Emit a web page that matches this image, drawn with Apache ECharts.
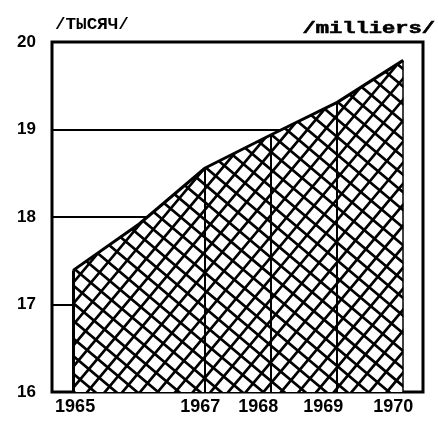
<!DOCTYPE html>
<html>
<head>
<meta charset="utf-8">
<script src="https://cdn.jsdelivr.net/npm/echarts@6/dist/echarts.min.js"></script>
<style>
  html, body { margin: 0; padding: 0; background: #fff; }
  #chart { width: 438px; height: 428px; }
</style>
</head>
<body>
<div id="chart"></div>
<script>
// values
const years = [1965, 1966, 1967, 1968, 1969, 1970];
const values = [17.39, 17.92, 18.56, 18.94, 19.31, 19.79];
const labelYears = [1965, 1967, 1968, 1969, 1970];
const yTicks = [16, 17, 18, 19, 20];
const unitLeft = '/ТЫСЯЧ/';
const unitRight = '/milliers/';

const xMin = 1964.68, xMax = 1970.3;

// labels in the picture sit a bit left of their year
const labelShift = { 1965: 2, 1967: -5, 1968: -13, 1969: -14, 1970: -10 };

// cross hatch drawn once on a canvas the size of the chart
const makeHatch = () => {
    const w = 438, h = 428;
    const cv = document.createElement('canvas');
    cv.width = w; cv.height = h;
    const ctx = cv.getContext('2d');
    ctx.fillStyle = '#fff';
    ctx.fillRect(0, 0, w, h);
    ctx.strokeStyle = '#000';
    ctx.lineWidth = 2.7;
    const family = (deg, gap) => {
        const a = deg * Math.PI / 180;
        const dx = Math.cos(a), dy = -Math.sin(a);
        const nx = -dy, ny = dx;
        const R = Math.hypot(w, h);
        ctx.beginPath();
        for (let k = -Math.ceil(R / gap); k <= Math.ceil(R / gap); k++) {
            const cx = w / 2 + nx * k * gap, cy = h / 2 + ny * k * gap;
            ctx.moveTo(cx - dx * R, cy - dy * R);
            ctx.lineTo(cx + dx * R, cy + dy * R);
        }
        ctx.stroke();
    };
    family(50, 13.5);
    family(-40, 13.5);
    return cv;
};

const rich = {};
labelYears.forEach(y => {
    const s = labelShift[y] || 0;
    rich['y' + y] = {
        fontFamily: 'Liberation Sans', fontWeight: 'bold', fontSize: 18, color: '#000',
        padding: s < 0 ? [0, -2 * s, 0, 0] : [0, 0, 0, 2 * s]
    };
});

const edgeWidth = { 1965: 3, 1970: 1.5 };
const verticals = [];
years.forEach((y, i) => {
    if (labelYears.indexOf(y) < 0) return;
    verticals.push([
        { coord: [y, yTicks[0]], lineStyle: { width: edgeWidth[y] || 2 } },
        { coord: [y, values[i]] }
    ]);
});

// grid lines stop at the shaded area, so they run only up to the last year
const gridLines = yTicks.slice(1, -1).map(t => [
    { coord: [xMin, t] },
    { coord: [years[years.length - 1], t] }
]);

const chart = echarts.init(document.getElementById('chart'));
chart.setOption({
    animation: false,
    backgroundColor: '#fff',
    grid: {
        left: 52, right: 15, top: 42, bottom: 36,
        show: true, borderColor: '#000', borderWidth: 3, backgroundColor: 'transparent'
    },
    xAxis: {
        type: 'value',
        min: xMin,
        max: xMax,
        axisLine: { show: false },
        axisTick: { show: false },
        splitLine: { show: false },
        axisLabel: {
            customValues: labelYears,
            margin: 6,
            formatter: v => '{y' + v + '|' + v + '}',
            rich: rich
        }
    },
    yAxis: {
        type: 'value',
        min: 16,
        max: 20,
        interval: 1,
        axisLine: { show: false },
        axisTick: { show: false },
        splitLine: { show: false },
        axisLabel: {
            margin: 16,
            color: '#000',
            fontFamily: 'Liberation Sans',
            fontWeight: 'bold',
            fontSize: 17
        }
    },
    graphic: [
        {
            type: 'text', left: 55, top: 17, scaleX: 1.1,
            style: { text: unitLeft, fontFamily: 'Liberation Mono', fontWeight: 'bold', fontSize: 16, fill: '#000' }
        },
        {
            type: 'text', left: 302, top: 20, scaleX: 1.3,
            style: {
                text: unitRight, fontFamily: 'Liberation Mono', fontWeight: 'bold', fontSize: 17,
                fill: '#000', stroke: '#000', lineWidth: 0.6
            }
        }
    ],
    series: [
        {
            type: 'line',
            data: [],
            z: 1,
            markLine: {
                z: 1,
                silent: true,
                symbol: 'none',
                label: { show: false },
                lineStyle: { color: '#000', type: 'solid', width: 2 },
                data: gridLines
            }
        },
        {
            type: 'line',
            data: years.map((y, i) => [y, values[i]]),
            symbol: 'none',
            lineStyle: { color: '#000', width: 3 },
            areaStyle: { color: { image: makeHatch(), repeat: 'no-repeat' }, opacity: 1, origin: 'start' },
            markLine: {
                z: 4,
                silent: true,
                symbol: 'none',
                label: { show: false },
                lineStyle: { color: '#000', type: 'solid', width: 2 },
                data: verticals
            },
            z: 3
        }
    ]
});
</script>
</body>
</html>
